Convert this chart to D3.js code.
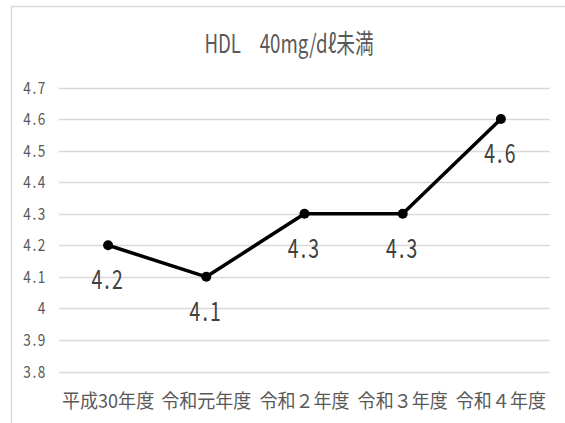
<!DOCTYPE html>
<html>
<head>
<meta charset="utf-8">
<script src="https://cdn.jsdelivr.net/npm/d3@7"></script>
<style>
  body { margin: 0; background: #fff; }
  text { font-family: "Noto Sans CJK JP", "Noto Sans", sans-serif; }
</style>
</head>
<body>
<div id="chart"></div>
<script>
// chart data
const title = 'HDL\u300040mg/d\u2113未満';
const years = ['平成30年度', '令和元年度', '令和２年度', '令和３年度', '令和４年度'];
const values = [4.2, 4.1, 4.3, 4.3, 4.6];
const yTicks = [3.8, 3.9, 4, 4.1, 4.2, 4.3, 4.4, 4.5, 4.6, 4.7];

const width = 565, height = 423;
const margin = {top: 87.5, right: 15, bottom: 51.5, left: 59};

const svg = d3.select('#chart')
    .append('svg')
    .attr('width', width)
    .attr('height', height);

// outer chart border (runs off the right/bottom of the picture)
svg.append('rect')
    .attr('x', 11.5)
    .attr('y', 6.5)
    .attr('width', 700)
    .attr('height', 600)
    .attr('fill', 'none')
    .attr('stroke', '#d9d9d9')
    .attr('stroke-width', 1.5);

const x = d3.scaleBand()
    .domain(years)
    .range([margin.left, width - margin.right]);
const cx = d => x(d) + x.bandwidth() / 2;

const y = d3.scaleLinear()
    .domain([3.8, 4.7])
    .range([height - margin.bottom, margin.top]);

// the original font is tall and narrow, so squeeze text horizontally
const squeeze = (px, py, sx) => `translate(${px},${py}) scale(${sx},1)`;

// gridlines
svg.append('g')
    .selectAll('line')
    .data(yTicks)
    .enter()
    .append('line')
    .attr('x1', margin.left)
    .attr('x2', width - margin.right)
    .attr('y1', d => Math.round(y(d)) + 0.5)
    .attr('y2', d => Math.round(y(d)) + 0.5)
    .attr('stroke', '#d9d9d9')
    .attr('stroke-width', 1.3);

// y tick labels
svg.append('g')
    .selectAll('text')
    .data(yTicks)
    .enter()
    .append('text')
    .attr('transform', d => squeeze(47, y(d) + 6, 0.8))
    .attr('text-anchor', 'end')
    .attr('fill', '#595959')
    .style('font-size', '17px')
    .style('letter-spacing', '2px')
    .text(d => d);

// x labels
svg.append('g')
    .selectAll('text')
    .data(years)
    .enter()
    .append('text')
    .attr('transform', d => squeeze(cx(d), 408, 0.95))
    .attr('text-anchor', 'middle')
    .attr('fill', '#595959')
    .style('font-size', '19px')
    .text(d => d);

// line
const line = d3.line()
    .x((d, i) => cx(years[i]))
    .y(d => y(d));

svg.append('path')
    .datum(values)
    .attr('d', line)
    .attr('fill', 'none')
    .attr('stroke', '#000')
    .attr('stroke-width', 3.5)
    .attr('stroke-linejoin', 'round');

svg.append('g')
    .selectAll('circle')
    .data(values)
    .enter()
    .append('circle')
    .attr('cx', (d, i) => cx(years[i]))
    .attr('cy', d => y(d))
    .attr('r', 5)
    .attr('fill', '#000');

// data labels below the points
svg.append('g')
    .selectAll('text')
    .data(values)
    .enter()
    .append('text')
    .attr('transform', (d, i) => squeeze(cx(years[i]), y(d) + 44, 0.72))
    .attr('text-anchor', 'middle')
    .attr('fill', '#404040')
    .style('font-size', '27px')
    .style('letter-spacing', '3px')
    .text(d => d.toFixed(1));

// title
svg.append('text')
    .attr('transform', squeeze(289, 53, 0.72))
    .attr('text-anchor', 'middle')
    .attr('fill', '#595959')
    .style('font-size', '26px')
    .text(title);
</script>
</body>
</html>
